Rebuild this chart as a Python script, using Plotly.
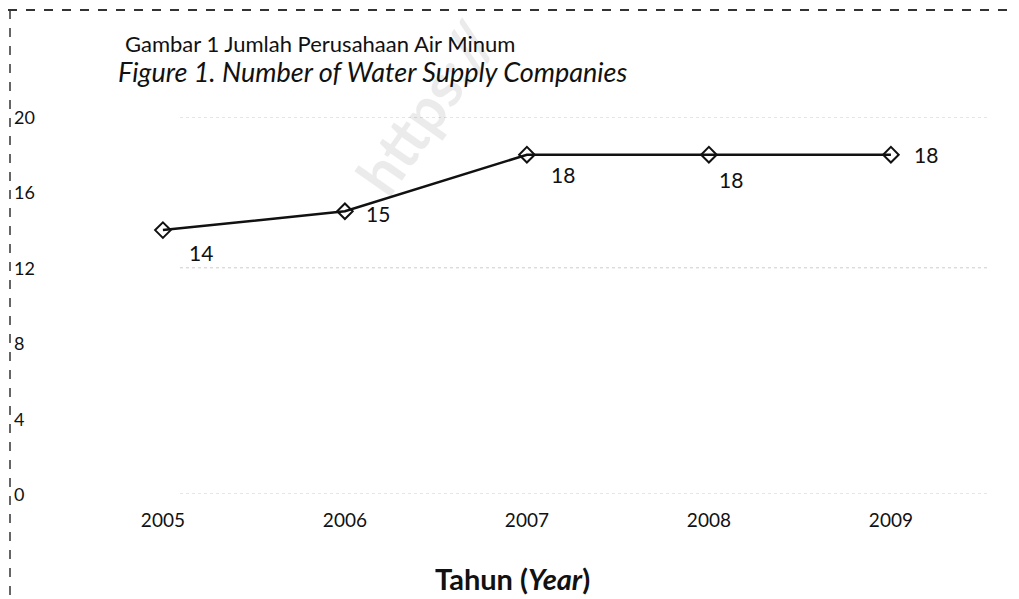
import plotly.graph_objects as go

years = [2005, 2006, 2007, 2008, 2009]
companies = [14, 15, 18, 18, 18]
y_ticks = [0, 4, 8, 12, 16, 20]
grid_levels = [0, 12, 20]
label_shift_x = [38, 33, 36, 22, 35]
label_shift_y = [-22, -2, -20, -25, 0]

FONT = "Lato"
OFF = 8  # page body margin
W, H = 1019 - OFF, 599 - OFF
L, R, T, B = 71 - OFF, 38, 117 - OFF, 113 - OFF
pw, ph = W - L - R, H - T - B

def px(x):
    return (x - OFF - L) / pw

def py(y):
    return (H - B - (y - OFF)) / ph

fig = go.Figure()
fig.add_trace(go.Scatter(
    x=years, y=companies, mode="lines+markers",
    line=dict(color="#111111", width=2.5),
    marker=dict(symbol="diamond-open", size=12, color="#111111", line=dict(width=2)),
    hoverinfo="skip", showlegend=False,
))

annotations = [
    dict(x=px(425), y=py(108), xref="paper", yref="paper", text="<b>https://</b>",
         showarrow=False, textangle=-55, xanchor="center", yanchor="middle",
         font=dict(family=FONT, size=60, color="rgba(0,0,0,0.08)")),
]
for xv, yv, dx, dy in zip(years, companies, label_shift_x, label_shift_y):
    annotations.append(dict(x=xv, y=yv, xref="x", yref="y", text=str(yv), showarrow=False,
                            xanchor="center", xshift=dx, yshift=dy,
                            font=dict(family=FONT, size=21, color="#111111")))
for t in y_ticks:
    annotations.append(dict(x=px(12), y=t, xref="paper", yref="y", text=str(t), showarrow=False,
                            xanchor="left", font=dict(family=FONT, size=18, color="#111111")))
annotations += [
    dict(x=px(320), y=py(43), xref="paper", yref="paper", text="Gambar 1 Jumlah Perusahaan Air Minum",
         showarrow=False, xanchor="center", yanchor="middle",
         font=dict(family=FONT, size=22, color="#111111")),
    dict(x=px(372), y=py(72), xref="paper", yref="paper",
         text="<i>Figure 1. Number of Water Supply Companies</i>",
         showarrow=False, xanchor="center", yanchor="middle",
         font=dict(family=FONT, size=27, color="#111111")),
    dict(x=px(512), y=py(578), xref="paper", yref="paper", text="<b>Tahun (<i>Year</i>)</b>",
         showarrow=False, xanchor="center", yanchor="middle",
         font=dict(family=FONT, size=29, color="#111111")),
]

shapes = []
for g in grid_levels:
    shapes.append(dict(type="line", xref="paper", yref="y", x0=px(180), x1=px(990), y0=g, y1=g,
                       line=dict(color="#cccccc", width=1, dash="dot"), layer="below"))
shapes.append(dict(type="line", xref="paper", yref="paper", x0=px(OFF), x1=px(1019), y0=py(10), y1=py(10),
                   line=dict(color="#333333", width=2, dash="dash")))
shapes.append(dict(type="line", xref="paper", yref="paper", x0=px(10), x1=px(10), y0=py(10), y1=py(599),
                   line=dict(color="#333333", width=1.5, dash="dash")))

fig.update_layout(
    width=W, height=H,
    margin=dict(l=L, r=R, t=T, b=B),
    paper_bgcolor="white", plot_bgcolor="white",
    annotations=annotations, shapes=shapes,
    xaxis=dict(range=[2004.495, 2009.495], tickvals=years, ticktext=[str(y) for y in years],
               showgrid=False, zeroline=False, showline=False, ticks="",
               ticklabelstandoff=13, tickfont=dict(family=FONT, size=19, color="#111111")),
    yaxis=dict(range=[0, 20], showticklabels=False, showgrid=False, zeroline=False,
               showline=False, ticks=""),
)

fig.write_html("out.html")
